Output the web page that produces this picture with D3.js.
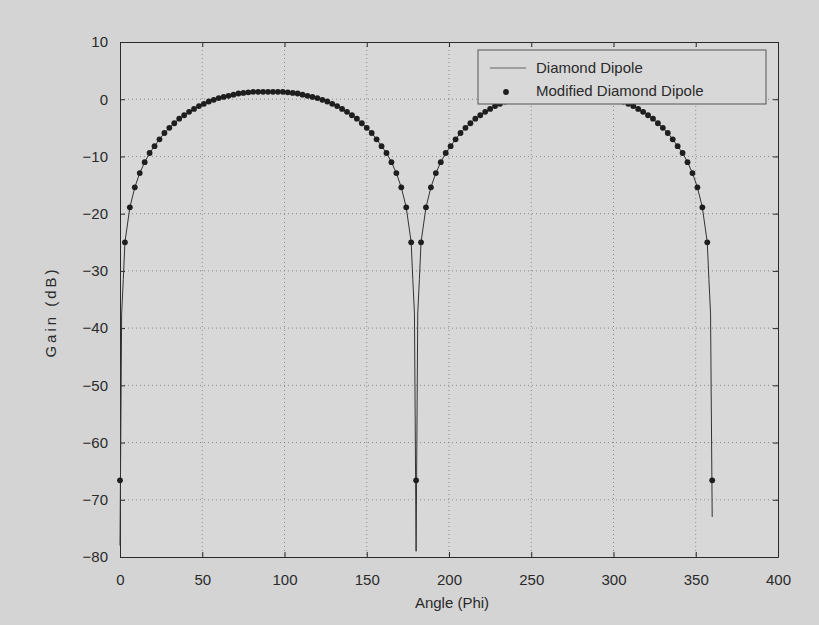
<!DOCTYPE html>
<html>
<head>
<meta charset="utf-8">
<script src="https://cdn.jsdelivr.net/npm/d3@7"></script>
<style>
  html, body { margin: 0; padding: 0; background: #d4d4d4; }
  svg { display: block; font-family: "Liberation Sans", Arial, sans-serif; }
</style>
</head>
<body>
<svg id="chart" width="819" height="625"></svg>
<script>
// Tick values for both axes
const xTicks = [0, 50, 100, 150, 200, 250, 300, 350, 400];
const yTicks = [10, 0, -10, -20, -30, -40, -50, -60, -70, -80];

// Modified Diamond Dipole: gain (dB) sampled every 3 degrees of Phi
const modAngles = [
  0, 3, 6, 9, 12, 15, 18, 21, 24, 27, 30, 33, 36, 39, 42, 45, 48, 51, 54, 57,
  60, 63, 66, 69, 72, 75, 78, 81, 84, 87, 90, 93, 96, 99, 102, 105, 108, 111, 114, 117,
  120, 123, 126, 129, 132, 135, 138, 141, 144, 147, 150, 153, 156, 159, 162, 165, 168, 171, 174, 177,
  180, 183, 186, 189, 192, 195, 198, 201, 204, 207, 210, 213, 216, 219, 222, 225, 228, 231, 234, 237,
  240, 243, 246, 249, 252, 255, 258, 261, 264, 267, 270, 273, 276, 279, 282, 285, 288, 291, 294, 297,
  300, 303, 306, 309, 312, 315, 318, 321, 324, 327, 330, 333, 336, 339, 342, 345, 348, 351, 354, 357,
  360
];
const modGain = [
  -66.6, -25.0, -18.9, -15.4, -12.9, -11.0, -9.4, -8.2, -7.0, -5.9, -5.0, -4.2, -3.4, -2.8, -2.2, -1.7, -1.2, -0.8, -0.4, -0.1,
  0.2, 0.4, 0.6, 0.8, 1.0, 1.1, 1.2, 1.3, 1.3, 1.3, 1.3, 1.3, 1.3, 1.3, 1.2, 1.1, 1.0, 0.8, 0.6, 0.4,
  0.2, -0.1, -0.4, -0.8, -1.2, -1.7, -2.2, -2.8, -3.4, -4.2, -5.0, -5.9, -7.0, -8.2, -9.4, -11.0, -12.9, -15.4, -18.9, -25.0,
  -66.6, -25.0, -18.9, -15.4, -12.9, -11.0, -9.4, -8.2, -7.0, -5.9, -5.0, -4.2, -3.4, -2.8, -2.2, -1.7, -1.2, -0.8, -0.4, -0.1,
  0.2, 0.4, 0.6, 0.8, 1.0, 1.1, 1.2, 1.3, 1.3, 1.3, 1.3, 1.3, 1.3, 1.3, 1.2, 1.1, 1.0, 0.8, 0.6, 0.4,
  0.2, -0.1, -0.4, -0.8, -1.2, -1.7, -2.2, -2.8, -3.4, -4.2, -5.0, -5.9, -7.0, -8.2, -9.4, -11.0, -12.9, -15.4, -18.9, -25.0,
  -66.6
];

// Diamond Dipole: same lobes, finer sampling around the nulls
const lineAngles = [
  0, 1, 2, 3, 6, 9, 12, 15, 18, 21, 24, 27, 30, 33, 36, 39, 42, 45, 48, 51, 54, 57,
  60, 63, 66, 69, 72, 75, 78, 81, 84, 87, 90, 93, 96, 99, 102, 105, 108, 111, 114, 117,
  120, 123, 126, 129, 132, 135, 138, 141, 144, 147, 150, 153, 156, 159, 162, 165, 168, 171, 174, 177, 178, 179,
  180, 181, 182, 183, 186, 189, 192, 195, 198, 201, 204, 207, 210, 213, 216, 219, 222, 225, 228, 231, 234, 237,
  240, 243, 246, 249, 252, 255, 258, 261, 264, 267, 270, 273, 276, 279, 282, 285, 288, 291, 294, 297,
  300, 303, 306, 309, 312, 315, 318, 321, 324, 327, 330, 333, 336, 339, 342, 345, 348, 351, 354, 357, 358, 359,
  360
];
const lineGain = [
  -78.0, -37.5, -31.5, -25.0, -18.9, -15.4, -12.9, -11.0, -9.4, -8.2, -7.0, -5.9, -5.0, -4.2, -3.4, -2.8, -2.2, -1.7, -1.2, -0.8, -0.4, -0.1,
  0.2, 0.4, 0.6, 0.8, 1.0, 1.1, 1.2, 1.3, 1.3, 1.3, 1.3, 1.3, 1.3, 1.3, 1.2, 1.1, 1.0, 0.8, 0.6, 0.4,
  0.2, -0.1, -0.4, -0.8, -1.2, -1.7, -2.2, -2.8, -3.4, -4.2, -5.0, -5.9, -7.0, -8.2, -9.4, -11.0, -12.9, -15.4, -18.9, -25.0, -31.5, -37.5,
  -79.0, -37.5, -31.5, -25.0, -18.9, -15.4, -12.9, -11.0, -9.4, -8.2, -7.0, -5.9, -5.0, -4.2, -3.4, -2.8, -2.2, -1.7, -1.2, -0.8, -0.4, -0.1,
  0.2, 0.4, 0.6, 0.8, 1.0, 1.1, 1.2, 1.3, 1.3, 1.3, 1.3, 1.3, 1.3, 1.3, 1.2, 1.1, 1.0, 0.8, 0.6, 0.4,
  0.2, -0.1, -0.4, -0.8, -1.2, -1.7, -2.2, -2.8, -3.4, -4.2, -5.0, -5.9, -7.0, -8.2, -9.4, -11.0, -12.9, -15.4, -18.9, -25.0, -31.5, -37.5,
  -73.0
];

const seriesNames = ["Diamond Dipole", "Modified Diamond Dipole"];

const svg = d3.select("#chart");
const plotL = 120, plotR = 778, plotT = 42, plotB = 557;

const x = d3.scaleLinear().domain([0, 400]).range([plotL, plotR]);
const y = d3.scaleLinear().domain([-80, 10]).range([plotB, plotT]);

const ink = "#2a2a2a";

// plot area
svg.append("rect")
  .attr("x", plotL).attr("y", plotT)
  .attr("width", plotR - plotL).attr("height", plotB - plotT)
  .attr("fill", "#d8d8d8");

// dotted grid
const grid = svg.append("g").attr("stroke", "#555").attr("stroke-width", 1)
  .attr("stroke-dasharray", "1,3").attr("opacity", 0.6);
grid.selectAll("line.vx").data(xTicks.slice(1, -1)).join("line")
  .attr("x1", d => x(d)).attr("x2", d => x(d)).attr("y1", plotT).attr("y2", plotB);
grid.selectAll("line.hy").data(yTicks.slice(1, -1)).join("line")
  .attr("y1", d => y(d)).attr("y2", d => y(d)).attr("x1", plotL).attr("x2", plotR);

// axes with inward ticks
const fmt = d3.format("d");
const axB = svg.append("g").attr("transform", `translate(0,${plotB})`)
  .call(d3.axisBottom(x).tickValues(xTicks).tickFormat(fmt).tickSizeInner(-5).tickSizeOuter(0).tickPadding(17));
const axT = svg.append("g").attr("transform", `translate(0,${plotT})`)
  .call(d3.axisTop(x).tickValues(xTicks).tickFormat("").tickSizeInner(-5).tickSizeOuter(0));
const axL = svg.append("g").attr("transform", `translate(${plotL},0)`)
  .call(d3.axisLeft(y).tickValues(yTicks).tickFormat(fmt).tickSizeInner(-5).tickSizeOuter(0).tickPadding(12));
const axR = svg.append("g").attr("transform", `translate(${plotR},0)`)
  .call(d3.axisRight(y).tickValues(yTicks).tickFormat("").tickSizeInner(-5).tickSizeOuter(0));
[axB, axT, axL, axR].forEach(g => {
  g.selectAll("path").attr("stroke", ink).attr("stroke-width", 1);
  g.selectAll("line").attr("stroke", ink);
  g.selectAll("text").attr("fill", ink).attr("font-size", 15)
    .attr("font-family", "'Liberation Sans', Arial, sans-serif");
});

// Diamond Dipole line
const lineData = lineAngles.map((a, i) => [a, lineGain[i]]);
svg.append("path").datum(lineData)
  .attr("fill", "none").attr("stroke", "#333").attr("stroke-width", 1)
  .attr("d", d3.line().x(d => x(d[0])).y(d => y(d[1])));

// Modified Diamond Dipole markers
const modData = modAngles.map((a, i) => [a, modGain[i]]);
svg.append("g").selectAll("circle").data(modData).join("circle")
  .attr("cx", d => x(d[0])).attr("cy", d => y(d[1]))
  .attr("r", 2.9).attr("fill", "#1e1e1e");

// legend
const lg = svg.append("g");
lg.append("rect").attr("x", 478).attr("y", 50).attr("width", 288).attr("height", 54)
  .attr("fill", "#d8d8d8").attr("stroke", "#555").attr("stroke-width", 1);
lg.append("line").attr("x1", 490).attr("x2", 526).attr("y1", 68).attr("y2", 68)
  .attr("stroke", "#666").attr("stroke-width", 1);
lg.append("circle").attr("cx", 506).attr("cy", 92).attr("r", 2.9).attr("fill", "#1e1e1e");
lg.selectAll("text").data(seriesNames).join("text")
  .attr("x", 536).attr("y", (d, i) => 68 + i * 23).attr("dy", "0.35em")
  .attr("font-size", 15).attr("fill", ink).text(d => d);

// axis titles
svg.append("text").attr("x", 452).attr("y", 603).attr("dy", "0.35em")
  .attr("text-anchor", "middle").attr("font-size", 15).attr("fill", ink).text("Angle (Phi)");
svg.append("text").attr("transform", "translate(56,312) rotate(-90)")
  .attr("text-anchor", "middle").attr("font-size", 15).attr("letter-spacing", 3)
  .attr("fill", ink).text("Gain (dB)");
</script>
</body>
</html>
